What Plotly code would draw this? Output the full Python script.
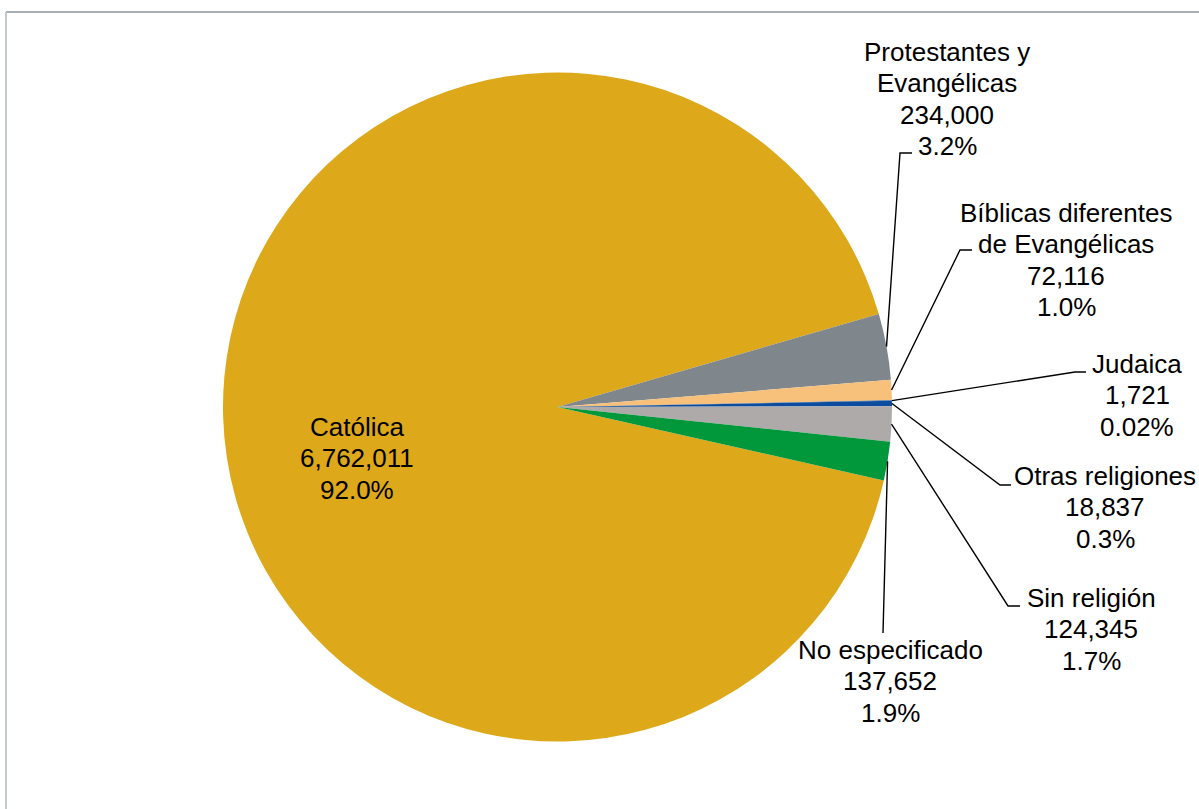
import math
import plotly.graph_objects as go

# ---------------- data ----------------
categories = ["Católica", "Protestantes y Evangélicas", "Bíblicas diferentes de Evangélicas",
              "Judaica", "Otras religiones", "Sin religión", "No especificado"]
values = [6762011, 234000, 72116, 1721, 18837, 124345, 137652]
value_labels = ["6,762,011", "234,000", "72,116", "1,721", "18,837", "124,345", "137,652"]
pct_labels = ["92.0%", "3.2%", "1.0%", "0.02%", "0.3%", "1.7%", "1.9%"]
name_lines = [["Católica"], ["Protestantes y", "Evangélicas"], ["Bíblicas diferentes", "de Evangélicas"],
              ["Judaica"], ["Otras religiones"], ["Sin religión"], ["No especificado"]]

# ---------------- styling / layout ----------------
colors = ["#DDA819", "#7F878C", "#F7C17C", "#0B4C9E", "#0B4C9E", "#AEAAA9", "#00983A"]
W, H = 1199, 809
CX, CY, R = 557.5, 407.0, 334.5
ROT = 102.7
FONT = "Liberation Sans, Arial, sans-serif"
FS = 26
LINE_GAP = 31.3

# label block anchor: (center x, y of first line) in pixels
label_pos = [(357, 427), (947, 52), (1066, 213), (1137, 364), (1105, 476), (1091, 598), (890, 650)]
# leader line knee points (pixels), None = no leader line
knees = [None, [(900, 153), (912, 153)], [(960, 250), (972, 250)], [(1075, 372), (1086, 372)],
         [(1000, 485), (1011, 485)], [(1008, 606), (1020, 606)], [(883, 633)]]


def fx(x):
    return x / W


def fy(y):
    return 1 - y / H


fig = go.Figure(go.Pie(
    labels=categories, values=values, sort=False, direction="clockwise", rotation=ROT,
    marker=dict(colors=colors, line=dict(width=0)), textinfo="none",
    hoverinfo="label+value+percent", showlegend=False,
    domain=dict(x=[fx(CX - R), fx(CX + R)], y=[fy(CY + R), fy(CY - R)]),
))

annotations = []
shapes = []
total = float(sum(values))
cum = 0.0
for i, v in enumerate(values):
    lines = name_lines[i] + [value_labels[i], pct_labels[i]]
    lx, ly = label_pos[i]
    for k, t in enumerate(lines):
        annotations.append(dict(
            x=fx(lx), y=fy(ly + k * LINE_GAP), xref="paper", yref="paper",
            text=t, showarrow=False, xanchor="center", yanchor="middle",
            font=dict(family=FONT, size=FS, color="#000000"),
        ))
    mid = ROT + 360.0 * (cum + v / 2.0) / total
    cum += v
    if knees[i]:
        a = math.radians(mid)
        ex, ey = CX + R * math.sin(a), CY - R * math.cos(a)
        pts = [(ex, ey)] + knees[i]
        path = "M " + " L ".join(f"{fx(x):.5f},{fy(y):.5f}" for x, y in pts)
        shapes.append(dict(type="path", path=path, xref="paper", yref="paper",
                           line=dict(color="#000000", width=1.4)))

# outer frame (top and left edges visible)
shapes.append(dict(type="line", xref="paper", yref="paper", x0=fx(6), x1=1, y0=fy(12), y1=fy(12),
                   line=dict(color="#8A959B", width=1.5)))
shapes.append(dict(type="line", xref="paper", yref="paper", x0=fx(6), x1=fx(6), y0=fy(12), y1=0,
                   line=dict(color="#C4C9CC", width=2)))

fig.update_layout(
    width=W, height=H, margin=dict(l=0, r=0, t=0, b=0),
    paper_bgcolor="white", plot_bgcolor="white",
    annotations=annotations, shapes=shapes,
)

fig.write_html("out.html", config={"displayModeBar": False},
               post_script="document.body.style.margin='0';document.body.style.overflow='hidden';")
